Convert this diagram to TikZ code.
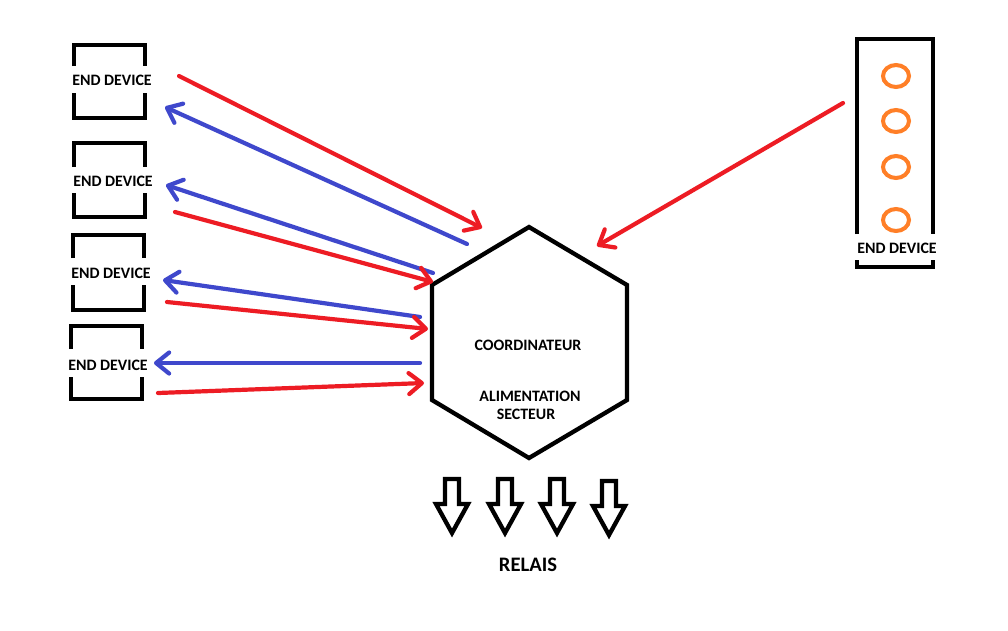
\documentclass[tikz,border=0pt]{standalone}
\usepackage{fontspec}
\setmainfont{Carlito}
\usetikzlibrary{arrows.meta}
\definecolor{pred}{HTML}{ED1C24}
\definecolor{pblue}{HTML}{3F48CC}
\definecolor{porange}{HTML}{FF7F27}
\begin{document}
\begin{tikzpicture}[x=1pt,y=-1pt,
  lbl/.style={font=\bfseries\fontsize{15.9}{18}\selectfont, inner sep=0pt},
  biglbl/.style={font=\bfseries\fontsize{20.6}{24}\selectfont, inner sep=0pt},
  frame/.style={draw=black, line width=4.3pt},
  led/.style={draw=porange, line width=4pt},
  link/.style={line width=4.2pt, line cap=round, -{Straight Barb[length=13pt,width=21pt,round]}},
  sendr/.style={link, draw=pred},
  sendb/.style={link, draw=pblue},
  relay/.style={draw=black, line width=4.3pt, line join=miter, miter limit=4}
]
\useasboundingbox (0,0) rectangle (1008,630);
\fill[white] (0,0) rectangle (1008,630);

% left end devices
\node[lbl] (ed1) at (112,80) {END DEVICE};
\draw[frame] (74,66) -- (74,45) -- (145,45) -- (145,66);
\draw[frame] (74,93) -- (74,118) -- (145,118) -- (145,93);

\node[lbl] (ed2) at (113,181) {END DEVICE};
\draw[frame] (74,167) -- (74,143) -- (145,143) -- (145,167);
\draw[frame] (74,193) -- (74,217) -- (145,217) -- (145,193);

\node[lbl] (ed3) at (111,273) {END DEVICE};
\draw[frame] (73,258) -- (73,235) -- (144,235) -- (144,258);
\draw[frame] (73,285) -- (73,310) -- (144,310) -- (144,285);

\node[lbl] (ed4) at (108,365) {END DEVICE};
\draw[frame] (71,349) -- (71,326) -- (142,326) -- (142,349);
\draw[frame] (71,377) -- (71,399) -- (142,399) -- (142,377);

% right end device
\node[lbl] (ed5) at (897,248) {END DEVICE};
\draw[frame] (857,234) -- (857,39) -- (933,39) -- (933,234);
\draw[frame] (857,260) -- (857,267) -- (933,267) -- (933,260);
\foreach \yy in {76,121,167,220}
  \draw[led] (896,\yy) ellipse [x radius=13, y radius=11];

% coordinator hexagon
\coordinate (hT) at (529,227);
\coordinate (hUR) at (627,285);
\coordinate (hLR) at (627,400);
\coordinate (hB) at (529,458);
\coordinate (hLL) at (432,400);
\coordinate (hUL) at (432,285);
\draw[frame, line join=miter] (hT) -- (hUR) -- (hLR) -- (hB) -- (hLL) -- (hUL) -- cycle;
\node[lbl] (coord) at (528,345) {COORDINATEUR};
\node[lbl] (alim) at (530,396) {ALIMENTATION};
\node[lbl] (sect) at (526,414) {SECTEUR};

% connector end points
\coordinate (r1s) at (179,76);  \coordinate (r1e) at (482,228);
\coordinate (b1s) at (467,244); \coordinate (b1e) at (165,107);
\coordinate (b2s) at (433,273); \coordinate (b2e) at (166,185);
\coordinate (r2s) at (175,212); \coordinate (r2e) at (433,282);
\coordinate (b3s) at (420,317); \coordinate (b3e) at (163,280);
\coordinate (r3s) at (167,302); \coordinate (r3e) at (428,329);
\coordinate (b4s) at (420,363); \coordinate (b4e) at (154,363);
\coordinate (r4s) at (158,393); \coordinate (r4e) at (424,383);
\coordinate (r5s) at (843,103); \coordinate (r5e) at (597,246);

\draw[sendr] (r1s) -- (r1e);
\draw[sendb] (b1s) -- (b1e);
\draw[sendb] (b2s) -- (b2e);
\draw[sendr] (r2s) -- (r2e);
\draw[sendb] (b3s) -- (b3e);
\draw[sendr] (r3s) -- (r3e);
\draw[sendb] (b4s) -- (b4e);
\draw[sendr] (r4s) -- (r4e);
\draw[sendr] (r5s) -- (r5e);

% relay arrows
\foreach \cx/\ty in {452/479, 505/479, 557/479, 609/481}
  \draw[relay] (\cx-7,\ty) -- (\cx+7,\ty) -- (\cx+7,\ty+25) -- (\cx+16,\ty+25)
     -- (\cx,\ty+54) -- (\cx-16,\ty+25) -- (\cx-7,\ty+25) -- cycle;
\node[biglbl] (relais) at (528,565) {RELAIS};
\end{tikzpicture}
\end{document}
